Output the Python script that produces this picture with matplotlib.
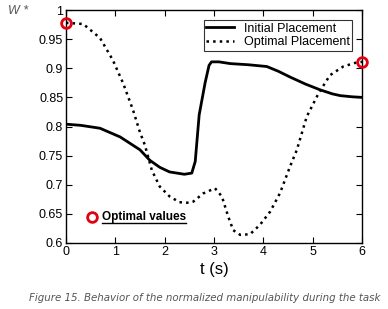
import matplotlib
matplotlib.use('Agg')
import matplotlib.pyplot as plt
from matplotlib.lines import Line2D

plt.rcParams['font.family'] = ['Liberation Sans', 'DejaVu Sans']

# Initial placement (solid)
t_init = [0, 0.3, 0.69, 1.1, 1.5, 1.7, 1.9, 2.1, 2.4, 2.55, 2.62, 2.7, 2.82, 2.9, 2.95,
          3.1, 3.33, 3.7, 4.07, 4.3, 4.54, 4.85, 5.15, 5.4, 5.56, 5.8, 6]
w_init = [0.804, 0.802, 0.797, 0.782, 0.76, 0.742, 0.73, 0.722, 0.718, 0.72, 0.74, 0.82,
          0.875, 0.905, 0.911, 0.911, 0.908, 0.906, 0.903, 0.895, 0.885, 0.873, 0.863,
          0.856, 0.853, 0.851, 0.850]

# Optimal placement (dotted)
t_opt = [0, 0.35, 0.69, 0.95, 1.16, 1.36, 1.5, 1.6, 1.74, 1.9, 2.1, 2.3, 2.5, 2.58, 2.78,
         3.02, 3.16, 3.29, 3.39, 3.53, 3.73, 3.93, 4.14, 4.34, 4.54, 4.68, 4.88, 5.12,
         5.35, 5.62, 5.85, 6]
w_opt = [0.978, 0.976, 0.952, 0.914, 0.874, 0.828, 0.79, 0.768, 0.725, 0.697, 0.680,
         0.670, 0.669, 0.671, 0.685, 0.694, 0.680, 0.645, 0.622, 0.614, 0.615, 0.631,
         0.654, 0.686, 0.731, 0.760, 0.817, 0.857, 0.888, 0.903, 0.909, 0.911]

# optimal values (endpoints)
t_marks = [0, 6]
w_marks = [0.978, 0.911]

x_ticks = [0, 1, 2, 3, 4, 5, 6]
y_ticks = [0.6, 0.65, 0.7, 0.75, 0.8, 0.85, 0.9, 0.95, 1.0]
y_labels = ['0.6', '0.65', '0.7', '0.75', '0.8', '0.85', '0.9', '0.95', '1']

fig = plt.figure(figsize=(3.88, 3.09), dpi=100)
ax = fig.add_axes([0.170, 0.2136, 0.763, 0.754])

ax.plot(t_init, w_init, color='black', lw=2.0, label='Initial Placement')
ax.plot(t_opt, w_opt, color='black', lw=1.8, ls=':', label='Optimal Placement')
ax.plot(t_marks, w_marks, ls='none', marker='o', ms=7, mfc='none', mec='#e3000f',
        mew=2, clip_on=False, zorder=5)

ax.set_xlim(0, 6)
ax.set_ylim(0.6, 1.0)
ax.set_xticks(x_ticks)
ax.set_yticks(y_ticks)
ax.set_yticklabels(y_labels)
ax.tick_params(direction='in', top=True, right=True, length=4, labelsize=9, pad=2)
for s in ax.spines.values():
    s.set_linewidth(1.0)

leg = ax.legend(loc='upper right', fontsize=9, frameon=True, fancybox=False,
                handlelength=2.2, borderpad=0.2, labelspacing=0.15, handletextpad=0.8,
                borderaxespad=0.8)
leg.get_frame().set_edgecolor('black')
leg.get_frame().set_linewidth(0.8)

# "Optimal values" note
ax.plot([0.52], [0.645], ls='none', marker='o', ms=7, mfc='none', mec='#e3000f', mew=2)
note = ax.text(0.73, 0.645, 'Optimal values', fontsize=8.5, fontweight='bold',
               va='center', ha='left')

ax.set_xlabel('t (s)', fontsize=12, labelpad=3)
fig.text(0.02, 0.955, 'W *', fontsize=9, style='italic', color='#555555')
fig.text(0.075, 0.027, 'Figure 15. Behavior of the normalized manipulability during the task',
         fontsize=7.4, style='italic', color='#555555', family='DejaVu Sans', va='baseline')

# underline for the note
fig.canvas.draw()
bb = note.get_window_extent()
inv = fig.transFigure.inverted()
(x0, y0), (x1, _) = inv.transform([(bb.x0, bb.y0 - 0.5), (bb.x1, bb.y0 - 0.5)])
fig.add_artist(Line2D([x0, x1], [y0, y0], color='black', lw=1.0, transform=fig.transFigure))

fig.savefig('out.png', dpi=100)
